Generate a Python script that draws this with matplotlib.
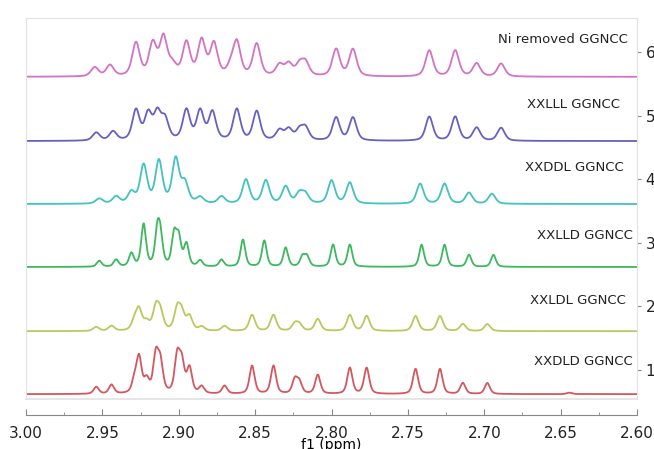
import numpy as np
import matplotlib.pyplot as plt

# spectra, bottom to top
names = ["XXDLD GGNCC", "XXLDL GGNCC", "XXLLD GGNCC", "XXDDL GGNCC", "XXLLL GGNCC", "Ni removed GGNCC"]
colors = ["#d4575f", "#bcc85e", "#3cb85e", "#43c2bf", "#6660c2", "#d472c4"]
baselines = [0.62, 1.61, 2.62, 3.61, 4.60, 5.61]
fwhm = [0.0040, 0.0046, 0.0037, 0.0054, 0.0056, 0.0058]

# peak centres (ppm) and heights (px, 63.6 px = 1 unit)
red_ppm = [2.954, 2.944, 2.929, 2.926, 2.921, 2.915, 2.912, 2.901, 2.898, 2.893, 2.885, 2.870,
           2.852, 2.838, 2.824, 2.821, 2.809, 2.788, 2.777, 2.745, 2.729, 2.714, 2.698, 2.644]
red_h = [7, 9, 12, 35, 13, 37, 29, 36, 29, 25, 7, 8, 28, 28, 14, 11, 19, 26, 26, 25, 25, 11, 11, 1.5]

yel_ppm = [2.954, 2.944, 2.929, 2.926, 2.921, 2.915, 2.912, 2.901, 2.898, 2.893, 2.885, 2.870,
           2.852, 2.838, 2.824, 2.821, 2.809, 2.788, 2.777, 2.745, 2.729, 2.714, 2.698]
yel_h = [4, 5, 9, 20, 8, 22, 17, 21, 16, 14, 4, 5, 16, 16, 7, 6, 12, 16, 15, 15, 15, 7, 7]

grn_ppm = [2.952, 2.941, 2.931, 2.923, 2.914, 2.912, 2.903, 2.900, 2.895, 2.886, 2.872,
           2.858, 2.844, 2.830, 2.819, 2.816, 2.799, 2.788, 2.741, 2.726, 2.710, 2.694]
grn_h = [6, 7, 13, 42, 33, 26, 31, 27, 22, 6, 7, 27, 26, 19, 10, 10, 22, 22, 22, 22, 12, 12]

teal_ppm = [2.952, 2.941, 2.931, 2.923, 2.913, 2.902, 2.896, 2.886, 2.872, 2.856, 2.843,
            2.830, 2.821, 2.817, 2.800, 2.788, 2.742, 2.726, 2.710, 2.695]
teal_h = [5, 7, 11, 38, 42, 44, 20, 6, 7, 24, 23, 17, 10, 9, 23, 21, 20, 20, 11, 10]

purp_ppm = [2.954, 2.943, 2.928, 2.920, 2.914, 2.909, 2.895, 2.886, 2.878, 2.862, 2.849,
            2.834, 2.828, 2.821, 2.817, 2.797, 2.786, 2.736, 2.719, 2.705, 2.689]
purp_h = [8, 9, 30, 26, 26, 20, 30, 29, 28, 31, 29, 10, 11, 10, 12, 23, 23, 24, 24, 13, 13]

pink_ppm = [2.955, 2.945, 2.928, 2.917, 2.910, 2.904, 2.895, 2.885, 2.877, 2.866, 2.862,
            2.849, 2.834, 2.828, 2.821, 2.817, 2.797, 2.786, 2.736, 2.719, 2.705, 2.689]
pink_h = [9, 11, 33, 32, 38, 10, 33, 35, 32, 8, 33, 32, 11, 12, 11, 13, 27, 27, 26, 26, 13, 13]

peaks = [(red_ppm, red_h), (yel_ppm, yel_h), (grn_ppm, grn_h),
         (teal_ppm, teal_h), (purp_ppm, purp_h), (pink_ppm, pink_h)]

label_y = [1.13, 2.10, 3.11, 4.18, 5.17, 6.19]
label_x = [2.603, 2.607, 2.603, 2.609, 2.611, 2.606]

x = np.linspace(2.6, 3.0, 4000)


def spectrum(_c, _h, _f):
    """pseudo-Voigt sum, half Lorentzian half Gaussian"""
    s = np.zeros_like(x)
    for c, h in zip(_c, _h):
        d = (x - c) / _f
        s += h * (0.5 / (1 + 4 * d ** 2) + 0.5 * np.exp(-4 * np.log(2) * d ** 2))
    return s / 63.6


fig = plt.figure(figsize=(6.54, 4.49), dpi=100)
ax = fig.add_axes([0.0398, 0.1114, 0.9343, 0.8485])

for i in range(len(names)):
    c, h = peaks[i]
    ax.plot(x, baselines[i] + spectrum(c, h, fwhm[i]), color=colors[i], lw=1.3)
    ax.text(label_x[i], label_y[i], names[i], ha="right", va="center", fontsize=9.5, color="#222222")

ax.set_xlim(3.0, 2.6)
ax.set_ylim(0.544, 6.535)

# panel frame
for s in ["left", "top", "right"]:
    ax.spines[s].set_color("#e2e2e2")
ax.plot([0, 1], [0, 0], transform=ax.transAxes, color="#e2e2e2", lw=1.2, clip_on=False)

# x axis below the panel
ax.spines["bottom"].set_position(("outward", 11.5))
ax.spines["bottom"].set_color("#888888")
ax.set_xticks(np.arange(2.6, 3.001, 0.05))
ax.set_xticks(np.arange(2.6, 3.001, 0.025), minor=True)
ax.xaxis.set_major_formatter(plt.FormatStrFormatter("%.2f"))
ax.tick_params(axis="x", which="major", direction="in", length=4, color="#888888",
               labelsize=11, labelcolor="#222222", pad=8)
ax.tick_params(axis="x", which="minor", direction="in", length=2.5, color="#888888")
ax.set_xlabel("f1 (ppm)", fontsize=10, labelpad=-2)

# stack index on the right
ax.yaxis.tick_right()
ax.set_yticks([1, 2, 3, 4, 5, 6])
ax.tick_params(axis="y", direction="out", length=3, color="#888888", labelsize=11,
               labelcolor="#222222", pad=3)

plt.savefig("out.png", dpi=100)
